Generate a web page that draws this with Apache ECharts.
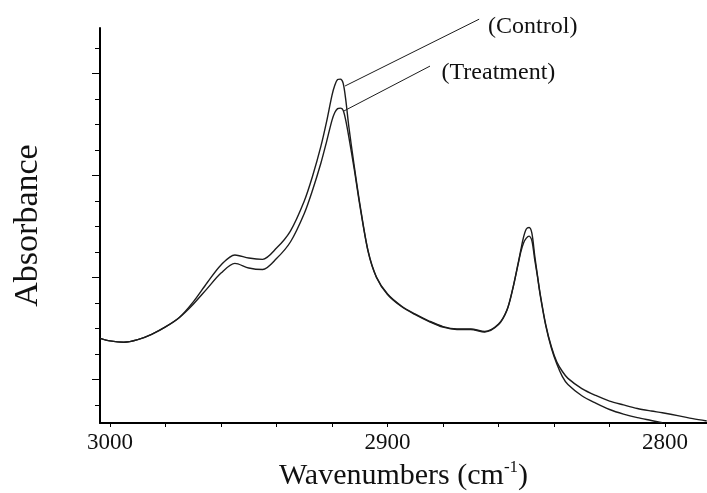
<!DOCTYPE html>
<html lang="en">
<head>
  <meta charset="UTF-8">
  <title>Absorbance spectra</title>
  <script src="https://cdn.jsdelivr.net/npm/echarts@6/dist/echarts.min.js"></script>
  <style>
    body {
      margin: 0;
      background: #fff;
    }

    #main {
      width: 707px;
      height: 493px;
    }
  </style>
</head>
<body>
  <div id="main"></div>

  <script>
  // wavenumbers (cm-1) and absorbance (arbitrary units)
  const wavenumbers = [
    3003.5, 3000, 2995, 2990, 2985, 2980, 2975, 2970, 2965, 2960,
    2955, 2950, 2945, 2940, 2935, 2930, 2927, 2924, 2922, 2920,
    2919, 2918, 2917, 2916, 2915, 2914, 2912, 2910, 2907, 2904,
    2900, 2895, 2890, 2885, 2880, 2875, 2870, 2865, 2860, 2857,
    2855, 2853, 2852, 2851, 2850, 2849, 2848, 2847, 2846, 2845,
    2843, 2841, 2839, 2837, 2835, 2830, 2825, 2820, 2815, 2810,
    2805, 2801, 2795, 2790, 2785
  ];
  const control = [
    3.32, 3.22, 3.17, 3.27, 3.48, 3.77, 4.14, 4.75, 5.50, 6.20,
    6.59, 6.47, 6.42, 6.86, 7.53, 8.71, 9.69, 10.86, 11.80, 12.86,
    13.25, 13.47, 13.49, 13.33, 12.63, 11.67, 10.08, 8.61, 6.75, 5.73,
    5.06, 4.59, 4.27, 4.00, 3.78, 3.69, 3.69, 3.59, 3.88, 4.43,
    5.22, 6.24, 6.78, 7.29, 7.61, 7.67, 7.45, 6.59, 5.80, 5.06,
    3.86, 3.00, 2.39, 2.02, 1.75, 1.35, 1.08, 0.86, 0.71, 0.57,
    0.47, 0.40, 0.28, 0.17, 0.08
  ];
  const treatment = [
    3.32, 3.22, 3.17, 3.27, 3.48, 3.77, 4.14, 4.66, 5.27, 5.88,
    6.26, 6.08, 6.02, 6.45, 7.10, 8.22, 9.14, 10.20, 11.02, 11.88,
    12.18, 12.33, 12.35, 12.27, 11.84, 11.25, 9.96, 8.55, 6.72, 5.71,
    5.04, 4.57, 4.25, 3.98, 3.76, 3.67, 3.67, 3.57, 3.86, 4.41,
    5.20, 6.20, 6.70, 7.06, 7.25, 7.33, 7.16, 6.43, 5.76, 5.02,
    3.82, 2.95, 2.31, 1.82, 1.51, 1.07, 0.78, 0.53, 0.35, 0.21,
    0.10, 0.01, null, null, null
  ];

  // x ticks every 20, labels every 100
  const xTicks = [3000, 2980, 2960, 2940, 2920, 2900, 2880, 2860, 2840, 2820, 2800];
  const xLabels = [3000, 2900, 2800];
  // y ticks (no labels on the original)
  const yTicks = [0.7, 1.7, 2.7, 3.7, 4.7, 5.7, 6.7, 7.7, 8.7, 9.7, 10.7, 11.7, 12.7, 13.7, 14.7];
  const yMajorTicks = [1.7, 5.7, 9.7, 13.7];

  // leader lines: point on curve -> where the name sits
  const seriesNames = ['(Control)', '(Treatment)'];
  const leaderFrom = [[2915.3, 13.22], [2915.7, 12.24]];
  const leaderTo = [[2867, 15.84], [2884.7, 14.0]];

  const serif = "'Liberation Serif', 'DejaVu Serif', serif";
  const ink = '#1c1c1c';
  const xMin = 2784.9, xMax = 3003.6;

  const myChart = echarts.init(document.getElementById('main'));

  function makeSeries(name, values, idx, dist) {
    return {
      name: name,
      type: 'line',
      xAxisIndex: 1,
      yAxisIndex: 2,
      data: wavenumbers.map((w, i) => [w, values[i]]),
      symbol: 'none',
      smooth: 0.3,
      clip: false,
      lineStyle: { color: ink, width: 1.4 },
      markLine: {
        silent: true,
        symbol: ['none', 'none'],
        lineStyle: { color: ink, width: 1, type: 'solid' },
        label: {
          show: true,
          position: 'end',
          distance: dist,
          formatter: name,
          fontFamily: serif,
          fontSize: 24,
          color: '#111'
        },
        data: [[{ coord: leaderFrom[idx] }, { coord: leaderTo[idx] }]]
      }
    };
  }

  const option = {
    animation: false,
    backgroundColor: '#fff',
    // grid 0 carries the visible axes, grid 1 (same scale, taller) carries the curves and notes
    grid: [
      { left: 100, right: 0, top: 28, bottom: 70, outerBoundsMode: 'none' },
      { left: 100, right: 0, top: 10, bottom: 70, outerBoundsMode: 'none' }
    ],
    xAxis: [
      {
        type: 'value',
        gridIndex: 0,
        inverse: true,
        min: xMin,
        max: xMax,
        name: '{a|Wavenumbers (cm}{s|-1}{a|)}',
        nameLocation: 'middle',
        nameGap: 34,
        nameTextStyle: {
          rich: {
            a: { fontFamily: serif, fontSize: 30, color: '#111', lineHeight: 34 },
            s: { fontFamily: serif, fontSize: 17, color: '#111', verticalAlign: 'top', lineHeight: 17 }
          }
        },
        axisLine: { lineStyle: { color: '#000', width: 2 } },
        axisTick: { customValues: xTicks, length: 4, lineStyle: { color: '#000', width: 1 } },
        axisLabel: {
          customValues: xLabels,
          formatter: (v) => String(v),
          margin: 8,
          fontFamily: serif,
          fontSize: 23,
          color: '#111'
        },
        splitLine: { show: false }
      },
      {
        type: 'value',
        gridIndex: 1,
        inverse: true,
        min: xMin,
        max: xMax,
        show: false
      }
    ],
    yAxis: [
      {
        type: 'value',
        gridIndex: 0,
        min: 0,
        max: 15.49,
        name: 'Absorbance',
        nameLocation: 'middle',
        nameRotate: 90,
        nameGap: 55,
        nameTextStyle: { fontFamily: serif, fontSize: 34, color: '#111' },
        axisLine: { show: true, lineStyle: { color: '#000', width: 2 } },
        axisTick: { show: true, customValues: yTicks, length: 5, lineStyle: { color: '#000', width: 1 } },
        axisLabel: { show: false },
        splitLine: { show: false }
      },
      {
        type: 'value',
        gridIndex: 0,
        min: 0,
        max: 15.49,
        position: 'left',
        axisLine: { show: false },
        axisTick: { show: true, customValues: yMajorTicks, length: 8, lineStyle: { color: '#000', width: 1 } },
        axisLabel: { show: false },
        splitLine: { show: false }
      },
      {
        type: 'value',
        gridIndex: 1,
        min: 0,
        max: 16.2,
        show: false
      }
    ],
    series: [
      makeSeries(seriesNames[0], control, 0, [10, -16]),
      makeSeries(seriesNames[1], treatment, 1, [13, -15])
    ]
  };

  myChart.setOption(option);
</script>

</body>
</html>
